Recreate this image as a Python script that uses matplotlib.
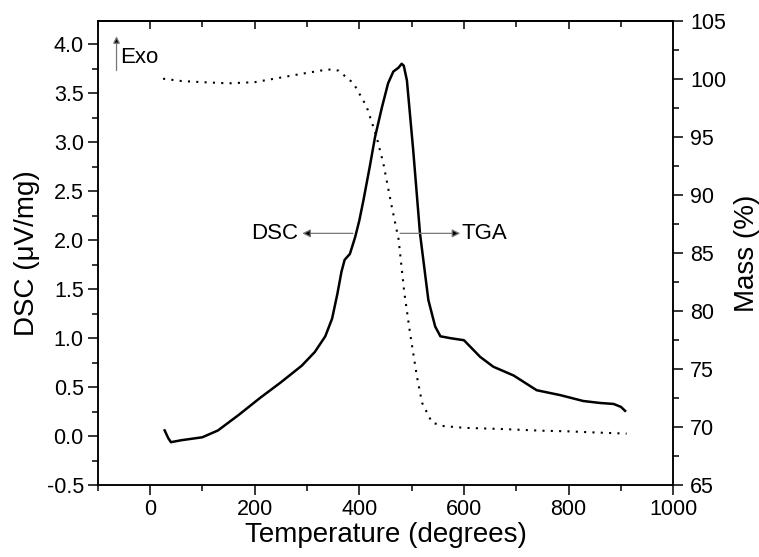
import numpy as np
import matplotlib
matplotlib.use("Agg")
import matplotlib.pyplot as plt

plt.rcParams["font.family"] = ["Liberation Sans", "DejaVu Sans"]

# DSC curve (uV/mg)
dsc_t = [28, 35, 40, 60, 100, 130, 170, 210, 250, 290, 315, 335, 348, 358,
         366, 372, 382, 392, 400, 408, 420, 430, 443, 455, 465, 475, 481, 485,
         491, 503, 516, 532, 545, 555, 575, 600, 631, 656, 695, 739, 784, 828,
         860, 886, 900, 908]
dsc_v = [0.06, -0.02, -0.06, -0.04, -0.01, 0.06, 0.22, 0.39, 0.55, 0.72, 0.86,
         1.02, 1.2, 1.45, 1.68, 1.8, 1.86, 2.03, 2.2, 2.41, 2.75, 3.05, 3.35,
         3.6, 3.72, 3.76, 3.80, 3.78, 3.63, 2.92, 2.07, 1.39, 1.12, 1.02, 1.00,
         0.98, 0.81, 0.71, 0.62, 0.47, 0.42, 0.36, 0.34, 0.33, 0.30, 0.26]

# TGA curve (mass %)
tga_t = [25, 60, 100, 150, 200, 250, 300, 340, 360, 389, 414, 433, 446, 462,
         475, 486, 497, 510, 520, 539, 561, 600, 669, 750, 797, 850, 911]
tga_m = [100.0, 99.8, 99.7, 99.6, 99.7, 100.1, 100.5, 100.8, 100.7, 99.6, 97.6,
         95.0, 92.7, 89.0, 86.2, 81.6, 78.1, 74.4, 72.1, 70.4, 70.1, 69.95,
         69.85, 69.7, 69.65, 69.55, 69.45]

fig = plt.figure(figsize=(7.59, 5.57), dpi=100)
ax = fig.add_axes([0.1287, 0.1287, 0.7583, 0.8343])
ax2 = ax.twinx()

ax.plot(dsc_t, dsc_v, color="black", lw=1.8)
ax2.plot(tga_t, tga_m, color="black", lw=1.5, linestyle=(0, (1, 3)))

ax.set_xlim(-100, 1000)
ax.set_ylim(-0.5, 4.24)
ax2.set_ylim(65, 105)

ax.set_xticks(np.arange(0, 1001, 200))
ax.set_xticks(np.arange(-100, 1001, 100), minor=True)
ax.set_yticks(np.arange(-0.5, 4.01, 0.5))
ax.set_yticks(np.arange(-0.5, 4.1, 0.25), minor=True)
ax.set_yticklabels([f"{v:.1f}" for v in np.arange(-0.5, 4.01, 0.5)])
ax2.set_yticks(np.arange(65, 106, 5))
ax2.set_yticks(np.arange(65, 106, 2.5), minor=True)

for a in (ax, ax2):
    for s in a.spines.values():
        s.set_linewidth(1.1)
    a.tick_params(which="major", length=7, width=1.1, labelsize=15.5,
                  direction="out", pad=3)
    a.tick_params(which="minor", length=4, width=1.1, direction="out")
ax2.tick_params(which="major", pad=5)

top = ax.secondary_xaxis("top")
top.set_xticks(np.arange(0, 1001, 200))
top.set_xticks(np.arange(-100, 1001, 100), minor=True)
top.tick_params(which="major", direction="in", length=6, width=1.1, labeltop=False)
top.tick_params(which="minor", direction="in", length=4, width=1.1)
top.set_xticklabels([])
top.spines["top"].set_linewidth(1.1)

ax.set_xlabel("Temperature (degrees)", fontsize=20, labelpad=1)
ax.set_ylabel("DSC (\u03bcV/mg)", fontsize=20, labelpad=5)
ax2.set_ylabel("Mass (%)", fontsize=20, labelpad=6)

# annotations
arrow = dict(arrowstyle="-|>", ec="#777777", fc="black", lw=0.9,
             mutation_scale=12, shrinkA=0, shrinkB=0)
ax.annotate("", xy=(291, 2.07), xytext=(388, 2.07), arrowprops=arrow)
ax.text(284, 2.07, "DSC", fontsize=16, ha="right", va="center")
ax.annotate("", xy=(593, 2.07), xytext=(478, 2.07), arrowprops=arrow)
ax.text(595, 2.07, "TGA", fontsize=16, ha="left", va="center")

ax.annotate("", xy=(-64, 4.08), xytext=(-64, 3.73),
            arrowprops=dict(arrow, mutation_scale=10))
ax.text(-57, 3.86, "Exo", fontsize=16, ha="left", va="center")

fig.savefig("out.png", dpi=100)
